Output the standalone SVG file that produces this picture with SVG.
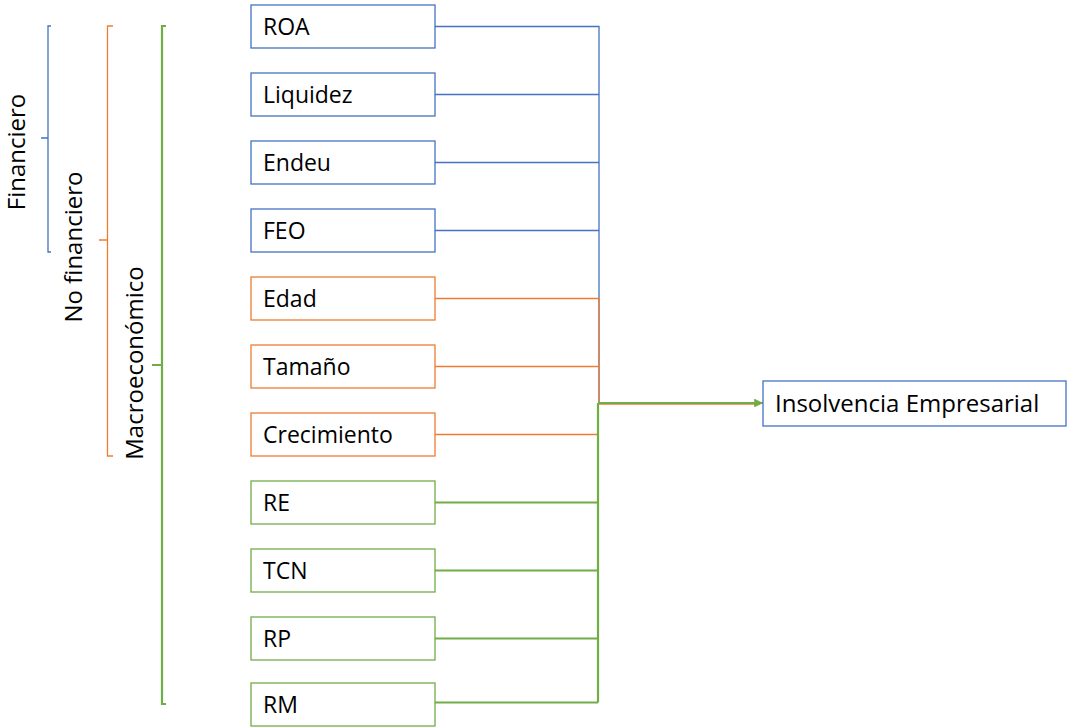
<svg xmlns="http://www.w3.org/2000/svg" width="1067" height="728" viewBox="0 0 1067 728">
<style>
.box{fill:#fff;stroke-width:1.3}
.b{stroke:#4472C4}.o{stroke:#ED7D31}.g{stroke:#70AD47}
.t{font-family:"Open Sans","Liberation Sans",sans-serif;font-size:23px;fill:#000}
.lbl{font-family:"Open Sans","Liberation Sans",sans-serif;font-size:24px;fill:#000;text-anchor:middle}
.ln{fill:none;stroke-width:1.3}
.lg{fill:none;stroke-width:2.2}
</style>
<defs>
<marker id="ah" viewBox="0 0 10 10" refX="10" refY="5" markerWidth="4" markerHeight="4" orient="auto" markerUnits="strokeWidth">
<path d="M0,0 L10,5 L0,10 z" fill="#70AD47"/>
</marker>
</defs>
<rect width="1067" height="728" fill="#fff"/>
<g id="brackets">
<path class="ln b" d="M51,26 H48 V252 H51 M48,138 H41"/>
<path class="ln o" d="M113,26 H107.5 V456 H113 M107.5,240 H99"/>
<path class="lg g" d="M166,26 H162 V704 H166 M162,365 H152"/>
</g>
<g id="labels">
<text class="lbl" transform="translate(25,152) rotate(-90)">Financiero</text>
<text class="lbl" transform="translate(82,247) rotate(-90)">No financiero</text>
<text class="lbl" transform="translate(143,363) rotate(-90)">Macroeconómico</text>
</g>
<g id="connectors">
<path class="ln b" d="M435,26.5 H599 V403 M435,94.5 H599 M435,162.5 H599 M435,230.5 H599"/>
<path class="ln o" d="M435,298.5 H599 M435,366.5 H599 M435,434.5 H599 M599,298 V404 H760"/>
<path class="lg g" d="M435,502.5 H598 M435,570.5 H598 M435,638.5 H598 M435,702.5 H598 M598,702.5 V403"/>
<path class="lg g" d="M598,403 H763" marker-end="url(#ah)"/>
</g>
<g id="n-roa"><rect class="box b" x="251" y="5" width="184" height="43"/><text class="t" x="263" y="35">ROA</text></g>
<g id="n-liquidez"><rect class="box b" x="251" y="73" width="184" height="43"/><text class="t" x="263" y="103">Liquidez</text></g>
<g id="n-endeu"><rect class="box b" x="251" y="141" width="184" height="43"/><text class="t" x="263" y="171">Endeu</text></g>
<g id="n-feo"><rect class="box b" x="251" y="209" width="184" height="43"/><text class="t" x="263" y="239">FEO</text></g>
<g id="n-edad"><rect class="box o" x="251" y="277" width="184" height="43"/><text class="t" x="263" y="307">Edad</text></g>
<g id="n-tamano"><rect class="box o" x="251" y="345" width="184" height="43"/><text class="t" x="263" y="375">Tamaño</text></g>
<g id="n-crecimiento"><rect class="box o" x="251" y="413" width="184" height="43"/><text class="t" x="263" y="443">Crecimiento</text></g>
<g id="n-re"><rect class="box g" x="251" y="481" width="184" height="43"/><text class="t" x="263" y="511">RE</text></g>
<g id="n-tcn"><rect class="box g" x="251" y="549" width="184" height="43"/><text class="t" x="263" y="579">TCN</text></g>
<g id="n-rp"><rect class="box g" x="251" y="617" width="184" height="43"/><text class="t" x="263" y="647">RP</text></g>
<g id="n-rm"><rect class="box g" x="251" y="683" width="184" height="43"/><text class="t" x="263" y="713">RM</text></g>
<g id="n-insolvencia"><rect class="box b" x="763" y="381" width="303" height="45"/><text class="t" x="775" y="412" style="font-size:24px">Insolvencia Empresarial</text></g>
</svg>
